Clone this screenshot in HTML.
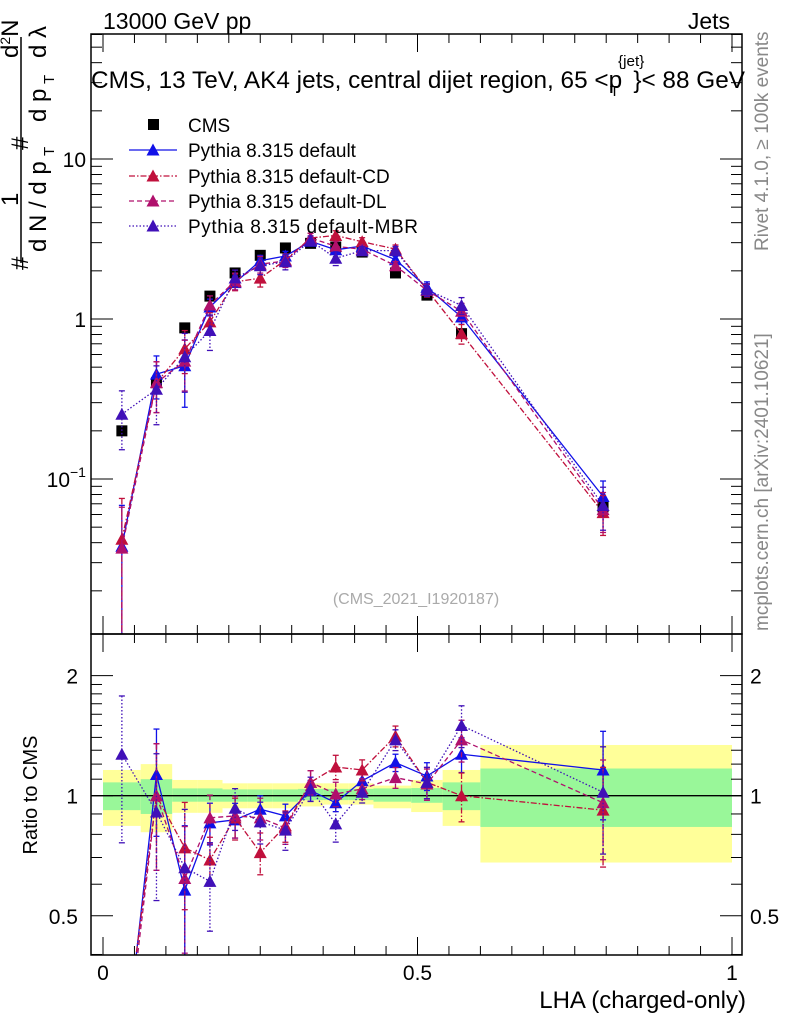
<!DOCTYPE html>
<html><head><meta charset="utf-8"><style>
html,body{margin:0;padding:0;background:#fff;overflow:hidden;width:786px;height:1024px}
svg{display:block}
svg text{font-family:"Liberation Sans",sans-serif}
</style></head><body>
<svg id="chart" width="786" height="1024" viewBox="0 0 786 1024" xmlns="http://www.w3.org/2000/svg">
<defs>
<clipPath id="cm"><rect x="91" y="34" width="651" height="600"/></clipPath>
<clipPath id="cr"><rect x="91" y="634" width="651" height="321"/></clipPath>
</defs>
<g id="bands" clip-path="url(#cr)"></g>
<g id="marksMain" clip-path="url(#cm)"></g>
<g id="marksRatio" clip-path="url(#cr)"></g>
<g id="axes"></g>
<text x="103" y="29" font-size="23">13000 GeV pp</text>
<text x="730" y="29" font-size="23" text-anchor="end">Jets</text>
<text x="91" y="88" font-size="24" textLength="654" lengthAdjust="spacingAndGlyphs">CMS, 13 TeV, AK4 jets, central dijet region, 65 &lt;p<tspan font-size="15" dy="-22" dx="-4">{jet}</tspan><tspan font-size="15" dy="30" dx="-34">T</tspan><tspan dy="-8" dx="14">}&lt; 88 GeV</tspan></text>
<text x="416" y="604" font-size="16" fill="#aaa" text-anchor="middle">(CMS_2021_I1920187)</text>
<text transform="translate(768,251) rotate(-90)" font-size="19" fill="#888">Rivet 4.1.0, ≥ 100k events</text>
<text transform="translate(768,631) rotate(-90)" font-size="19" fill="#888">mcplots.cern.ch [arXiv:2401.10621]</text>
<text x="746" y="1008" font-size="24" text-anchor="end">LHA (charged-only)</text>
<text transform="translate(37,795) rotate(-90)" font-size="20" text-anchor="middle">Ratio to CMS</text>
<g font-size="24">
<line x1="21" y1="37" x2="21" y2="263" stroke="#000" stroke-width="1.5"/>
<text transform="translate(28,270) rotate(-90)">#</text>
<text transform="translate(18,206) rotate(-90)">1</text>
<text transform="translate(46,252) rotate(-90)">d N / d p</text>
<text transform="translate(54,156) rotate(-90)" font-size="15">T</text>
<text transform="translate(28,150) rotate(-90)">#</text>
<text transform="translate(46,122) rotate(-90)">d p</text>
<text transform="translate(54,84) rotate(-90)" font-size="15">T</text>
<text transform="translate(46,58) rotate(-90)">d λ</text>
<text transform="translate(18,58) rotate(-90)">d<tspan font-size="14" dy="-8">2</tspan><tspan dy="8">N</tspan></text>
</g>
</svg>
<script>
const edges=[0,0.06,0.11,0.15,0.19,0.23,0.27,0.31,0.35,0.39,0.43,0.49,0.54,0.60,1.0];
const centers=[0.030,0.085,0.130,0.170,0.210,0.250,0.290,0.330,0.370,0.412,0.465,0.515,0.570,0.795];
const cmsVals=[0.20,0.40,0.88,1.39,1.94,2.5,2.78,2.97,2.82,2.62,1.94,1.41,0.81,0.067];
const cmsErr=[0.05,0.05,0.04,0.03,0.03,0.03,0.03,0.03,0.03,0.03,0.03,0.04,0.05,0.08];
const ratioDefault=[0.19,1.13,0.58,0.855,0.87,0.925,0.89,1.03,0.96,1.09,1.21,1.12,1.27,1.16];
const ratioCD=[0.21,1.0,0.74,0.69,0.88,0.72,0.84,1.08,1.18,1.16,1.41,1.08,1.0,0.92];
const ratioDL=[0.185,1.0,0.62,0.88,0.89,0.88,0.83,1.08,1.01,1.04,1.11,1.07,1.38,0.96];
const ratioMBR=[1.27,0.91,0.66,0.61,0.93,0.86,0.82,1.04,0.85,1.02,1.38,1.08,1.5,1.02];
const errDefault=[0.8,0.3,0.45,0.12,0.1,0.08,0.07,0.06,0.05,0.05,0.05,0.08,0.1,0.25];
const errCD=[0.8,0.35,0.3,0.14,0.12,0.12,0.09,0.07,0.07,0.06,0.06,0.09,0.14,0.28];
const errDL=[0.8,0.35,0.35,0.14,0.12,0.12,0.09,0.07,0.07,0.06,0.06,0.09,0.12,0.28];
const errMBR=[0.4,0.4,0.4,0.25,0.12,0.12,0.11,0.07,0.1,0.06,0.06,0.09,0.12,0.3];
const yellowUp=[1.16,1.20,1.095,1.095,1.074,1.074,1.074,1.074,1.074,1.074,1.06,1.095,1.16,1.34];
const yellowDn=[0.84,0.81,0.906,0.906,0.93,0.93,0.93,0.94,0.95,0.95,0.93,0.91,0.84,0.68];
const greenUp=[1.08,1.10,1.043,1.043,1.037,1.037,1.037,1.04,1.04,1.04,1.043,1.045,1.08,1.17];
const greenDn=[0.92,0.90,0.966,0.966,0.966,0.966,0.966,0.975,0.975,0.975,0.966,0.96,0.92,0.835];

const NS="http://www.w3.org/2000/svg";
const X=v=>103+629*v, YM=v=>319-160*Math.log10(v), YR=v=>795.7-399*Math.log10(v);
function mk(p,tag,a){const e=document.createElementNS(NS,tag);for(const k in a)e.setAttribute(k,a[k]);p.appendChild(e);return e;}
const bands=document.getElementById('bands'),gm=document.getElementById('marksMain'),gr=document.getElementById('marksRatio'),ax=document.getElementById('axes');

for(let i=0;i<centers.length;i++){
  let r=mk(bands,'rect',{x:X(edges[i]),y:YR(yellowUp[i]),width:X(edges[i+1])-X(edges[i]),height:YR(yellowDn[i])-YR(yellowUp[i]),fill:'#ffff99'});
  
  
  let g=mk(bands,'rect',{x:X(edges[i]),y:YR(greenUp[i]),width:X(edges[i+1])-X(edges[i]),height:YR(greenDn[i])-YR(greenUp[i]),fill:'#99f799'});
  
  
}
let ref=mk(bands,'line',{x1:91,x2:742,y1:YR(1),y2:YR(1),stroke:'#000','stroke-width':1.3});



const series=[
 {name:'default',r:ratioDefault,e:errDefault,c:'#1010e8',d:''},
 {name:'default-cd',r:ratioCD,e:errCD,c:'#c0103c',d:'6,2,1.5,2'},
 {name:'default-dl',r:ratioDL,e:errDL,c:'#b0106c',d:'5,3'},
 {name:'default-mbr',r:ratioMBR,e:errMBR,c:'#4010b8',d:'1.5,2'}];

function tri(p,x,y,c,name){const t=mk(p,'path',{d:`M${x-6.5},${y+5.5}L${x+6.5},${y+5.5}L${x},${y-6.5}Z`,fill:c});
 
 }

cmsVals.forEach((v,i)=>{
 mk(gm,'line',{x1:X(centers[i]),x2:X(centers[i]),y1:YM(v*(1+cmsErr[i])),y2:YM(v*(1-cmsErr[i])),stroke:'#000'});
 const s=mk(gm,'rect',{x:X(centers[i])-5.5,y:YM(v)-5.5,width:11,height:11,fill:'#000'});
 
 
});

series.forEach(s=>{
 [[gm,i=>cmsVals[i]*s.r[i],YM,(i,f)=>cmsVals[i]*s.r[i]*f],[gr,i=>s.r[i],YR,(i,f)=>s.r[i]*f]].forEach(([g,val,Y,ev])=>{
  const pts=centers.map((c,i)=>X(c)+','+Y(val(i))).join(' ');
  const pl=mk(g,'polyline',{points:pts,fill:'none',stroke:s.c,'stroke-width':1.3,'stroke-dasharray':s.d});
  
  
  centers.forEach((c,i)=>{
   const x=X(c),y1=Y(ev(i,1+s.e[i])),y2=Y(ev(i,Math.max(0.01,1-s.e[i])));
   mk(g,'line',{x1:x,x2:x,y1:y1,y2:y2,stroke:s.c,'stroke-width':1.3,'stroke-dasharray':s.d});
   mk(g,'line',{x1:x-3,x2:x+3,y1:y1,y2:y1,stroke:s.c,'stroke-width':1.3});
   mk(g,'line',{x1:x-3,x2:x+3,y1:y2,y2:y2,stroke:s.c,'stroke-width':1.3});
   tri(g,x,Y(val(i)),s.c,'marker-'+s.name);
  });
 });
});

[[34,634],[634,955]].forEach(([t,b])=>{mk(ax,'rect',{x:91,y:t,width:651,height:b-t,fill:'none',stroke:'#000','stroke-width':1.5});});
for(let k=0;k<=20;k++){const v=k*0.05,x=X(v),L=(k%10==0)?18:9;
 [[34,1],[634,-1],[634,1],[955,-1]].forEach(([y,d])=>mk(ax,'line',{x1:x,x2:x,y1:y,y2:y+d*L,stroke:'#000'}));}
[['0',0],['0.5',0.5],['1',1]].forEach(([t,v])=>{const e=mk(ax,'text',{x:X(v),y:980,'font-size':21,'text-anchor':'middle'});e.textContent=t;
 
 });
for(let dec=-2;dec<=1;dec++)for(let m=1;m<=9;m++){const v=m*Math.pow(10,dec),y=YM(v);if(y<34||y>634)continue;const L=m==1?22:11;
 mk(ax,'line',{x1:91,x2:91+L,y1:y,y2:y,stroke:'#000'});mk(ax,'line',{x1:742,x2:742-L,y1:y,y2:y,stroke:'#000'});}
[[10,'10',''],[1,'1',''],[0.1,'10','−1']].forEach(([v,t,sup])=>{const e=mk(ax,'text',{x:sup?70:86,y:YM(v)+8,'font-size':21,'text-anchor':'end'});e.textContent=t;
 
 
 if(sup){const s=mk(ax,'text',{x:70,y:YM(v)-2,'font-size':14});s.textContent=sup;}});
[0.4,0.5,0.6,0.7,0.8,0.9,1,1.1,1.2,1.3,1.4,1.5,1.6,1.7,1.8,1.9,2].forEach(v=>{const y=YR(v);const L=(v==0.5||v==1||v==2)?22:11;
 mk(ax,'line',{x1:91,x2:91+L,y1:y,y2:y,stroke:'#000'});mk(ax,'line',{x1:742,x2:742-L,y1:y,y2:y,stroke:'#000'});});
[['2',2],['1',1],['0.5',0.5]].forEach(([t,v])=>{
 const a=mk(ax,'text',{x:78,y:YR(v)+8,'font-size':21,'text-anchor':'end'});a.textContent=t;
 
 
 const b=mk(ax,'text',{x:750,y:YR(v)+8,'font-size':21});b.textContent=t;
 
 });
const lg=mk(ax,'g',{});


const ly=[125,150,176,201,226];
mk(lg,'rect',{x:148,y:ly[0]-6,width:11,height:11,fill:'#000'});
let t0=mk(lg,'text',{x:188,y:ly[0]+7,'font-size':19});t0.textContent='CMS';
const labs=['Pythia 8.315 default','Pythia 8.315 default-CD','Pythia 8.315 default-DL','Pythia 8.315 default-MBR'];
series.forEach((s,i)=>{const y=ly[i+1];
 mk(lg,'line',{x1:129,x2:177,y1:y,y2:y,stroke:s.c,'stroke-width':1.3,'stroke-dasharray':s.d});
 tri(lg,153,y,s.c,'legend-marker-'+s.name);
 const t=mk(lg,'text',{x:188,y:y+7,'font-size':19,textLength:i==3?230:undefined});t.textContent=labs[i];
 if(i!=3)t.removeAttribute('textLength');
 
 });
</script>
</body></html>
